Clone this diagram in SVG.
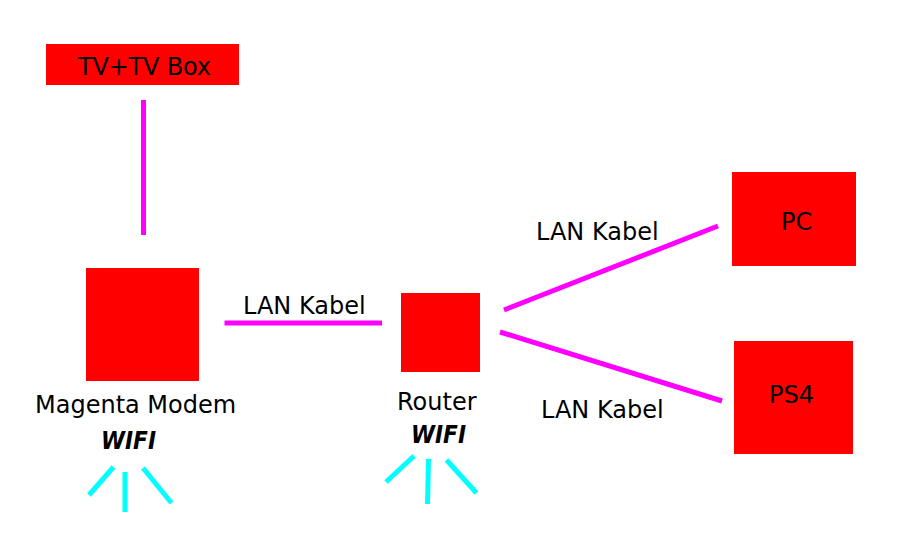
<svg xmlns="http://www.w3.org/2000/svg" width="916" height="559" viewBox="0 0 916 559">
<style>
.n{fill:#ff0000}
.t{font-family:"DejaVu Sans",sans-serif;font-size:24px;fill:#000}
.w{font-family:"DejaVu Sans",sans-serif;font-size:24px;font-weight:bold;font-style:italic;fill:#000}
.m{stroke:#ff00ff;stroke-width:5;fill:none}
.c{stroke:#00ffff;stroke-width:5;fill:none}
</style>
<rect width="916" height="559" fill="#fff"/>
<g id="connectors">
<path class="m" d="M143.500 100V235"/>
<path class="m" d="M224.500 323H382"/>
<path class="m" d="M504 310L718 226"/>
<path class="m" d="M500 332L722 401"/>
<path class="c" d="M113.500 467L89 495"/>
<path class="c" d="M125 472V512"/>
<path class="c" d="M143 468L171.500 503"/>
<path class="c" d="M414 456L386 482"/>
<path class="c" d="M428.500 459L427.500 504"/>
<path class="c" d="M446.500 460L476.500 493"/>
</g>
<g id="tv"><rect class="n" x="46" y="44" width="193" height="41"/><text class="t" x="78" y="75" textLength="133">TV+TV Box</text></g>
<g id="modem"><rect class="n" x="86" y="268" width="113" height="113"/><text class="t" x="35" y="413">Magenta Modem</text><text class="w" x="101" y="449" textLength="55" lengthAdjust="spacingAndGlyphs">WIFI</text></g>
<g id="router"><rect class="n" x="401" y="293" width="79" height="79"/><text class="t" x="397" y="410">Router</text><text class="w" x="411" y="443" textLength="55" lengthAdjust="spacingAndGlyphs">WIFI</text></g>
<g id="pc"><rect class="n" x="732" y="172" width="124" height="94"/><text class="t" x="781" y="230">PC</text></g>
<g id="ps4"><rect class="n" x="734" y="341" width="119" height="113"/><text class="t" x="769" y="403">PS4</text></g>
<g id="labels">
<text class="t" x="243" y="314">LAN Kabel</text>
<text class="t" x="536" y="240">LAN Kabel</text>
<text class="t" x="541" y="418">LAN Kabel</text>
</g>
</svg>
